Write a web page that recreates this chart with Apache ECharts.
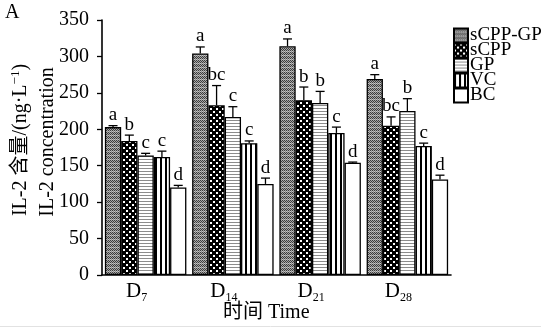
<!DOCTYPE html>
<html>
<head>
<meta charset="UTF-8">
<title>IL-2</title>
<script src="https://cdn.jsdelivr.net/npm/echarts@6/dist/echarts.min.js"></script>
<style>
  html, body { margin: 0; padding: 0; background: #fff; }
  #main { width: 541px; height: 330px; }
</style>
</head>
<body>
<div id="main"></div>
<script>
    const days = ['7', '14', '21', '28'];
    const names = ['sCPP-GP', 'sCPP', 'GP', 'VC', 'BC'];

    // mean values
    const sCppGp = [203, 304, 314, 269];
    const sCpp = [184, 233, 240, 205];
    const gp = [164, 217, 236, 225];
    const vc = [162, 181, 195, 177];
    const bc = [120, 125, 154, 131];

    // error bars (upper part only)
    const sCppGpErr = [2, 9, 10, 6];
    const sCppErr = [8, 27, 18, 12];
    const gpErr = [3, 14, 16, 17];
    const vcErr = [8, 3, 8, 4];
    const bcErr = [3, 8, 1, 6];

    // significance letters
    const sCppGpSig = ['a', 'a', 'a', 'a'];
    const sCppSig = ['b', 'bc', 'b', 'bc'];
    const gpSig = ['c', 'c', 'b', 'b'];
    const vcSig = ['c', 'c', 'c', 'c'];
    const bcSig = ['d', 'd', 'd', 'd'];

    const means = [sCppGp, sCpp, gp, vc, bc];
    const errs = [sCppGpErr, sCppErr, gpErr, vcErr, bcErr];
    const sigs = [sCppGpSig, sCppSig, gpSig, vcSig, bcSig];

    const serif = "'Liberation Serif', 'Noto Sans CJK SC', serif";
    const barW = 16.3;

    function tile(w, h, draw) {
        let c = document.createElement('canvas');
        c.width = w;
        c.height = h;
        draw(c.getContext('2d'));
        return { image: c, repeat: 'repeat' };
    }

    const fills = [
        tile(4, 4, g => {
            for (let y = 0; y < 4; y++) {
                for (let x = 0; x < 4; x++) {
                    let dark = (x + y) % 2 === 0;
                    g.fillStyle = y === 3 ? (dark ? '#8a8a8a' : '#c8c8c8') : (dark ? '#3c3c3c' : '#a8a8a8');
                    g.fillRect(x, y, 1, 1);
                }
            }
        }),
        tile(6, 6, g => {
            g.fillStyle = '#000';
            g.fillRect(0, 0, 6, 6);
            g.fillStyle = '#fff';
            g.fillRect(0, 0, 2, 2);
            g.fillRect(3, 3, 2, 2);
        }),
        tile(3, 3, g => {
            g.fillStyle = '#fff';
            g.fillRect(0, 0, 3, 3);
            g.fillStyle = '#8c8c8c';
            g.fillRect(0, 0, 3, 1);
        }),
        tile(5, 5, g => {
            g.fillStyle = '#fff';
            g.fillRect(0, 0, 5, 5);
            g.fillStyle = '#000';
            g.fillRect(0, 0, 2, 5);
        }),
        '#fff'
    ];

    let barSeries = names.map((n, i) => ({
        name: n,
        type: 'bar',
        data: means[i],
        barWidth: barW,
        barGap: '0%',
        itemStyle: { color: fills[i], borderColor: '#000', borderWidth: 1.3 }
    }));

    let errData = [];
    names.forEach((n, i) => {
        days.forEach((d, j) => {
            errData.push([j, i, means[i][j], errs[i][j], sigs[i][j]]);
        });
    });

    let chart = echarts.init(document.getElementById('main'));

    let option = {
        backgroundColor: '#fff',
        animation: false,
        textStyle: { fontFamily: serif },
        grid: { left: 102, right: 90, top: 20, bottom: 55 },
        legend: {
            orient: 'vertical',
            left: 448,
            top: 21,
            itemWidth: 14,
            itemHeight: 14,
            itemGap: -4,
            icon: 'rect',
            data: names,
            textStyle: { fontFamily: serif, fontSize: 19, color: '#000', padding: [0, 0, 0, -3] }
        },
        xAxis: {
            type: 'category',
            data: days,
            axisTick: { show: false },
            axisLine: { lineStyle: { color: '#000', width: 1.6 } },
            axisLabel: {
                margin: 4,
                padding: [0, 18, 0, 0],
                formatter: v => '{d|D}{s|' + v + '}',
                rich: {
                    d: { fontFamily: serif, fontSize: 21, color: '#000' },
                    s: { fontFamily: serif, fontSize: 12, color: '#000', padding: [13, 0, 0, 0] }
                }
            }
        },
        yAxis: {
            type: 'value',
            min: 0,
            max: 350,
            interval: 50,
            splitLine: { show: false },
            axisLine: { show: true, lineStyle: { color: '#000', width: 1.6 } },
            axisTick: { show: true, length: 5, lineStyle: { color: '#000', width: 1.3 } },
            axisLabel: { margin: 13, fontFamily: serif, fontSize: 20, color: '#000' }
        },
        series: barSeries.concat([{
            type: 'custom',
            data: errData,
            encode: { x: 0, y: 2 },
            z: 5,
            silent: true,
            renderItem: function (params, api) {
                let base = api.coord([api.value(0), api.value(2)]);
                let top = api.coord([api.value(0), api.value(2) + api.value(3)]);
                let x = base[0] + (api.value(1) - 2) * barW;
                return {
                    type: 'group',
                    children: [
                        {
                            type: 'line',
                            shape: { x1: x, y1: base[1], x2: x, y2: top[1] },
                            style: { stroke: '#000', lineWidth: 1.3 }
                        },
                        {
                            type: 'line',
                            shape: { x1: x - 4.5, y1: top[1], x2: x + 4.5, y2: top[1] },
                            style: { stroke: '#000', lineWidth: 1.3 }
                        },
                        {
                            type: 'text',
                            style: {
                                x: x,
                                y: top[1] - 1,
                                text: api.value(4),
                                fill: '#000',
                                font: '19px ' + serif,
                                textAlign: 'center',
                                textVerticalAlign: 'bottom'
                            }
                        }
                    ]
                };
            }
        }]),
        graphic: [
            {
                type: 'text',
                left: 5,
                top: 3,
                style: { text: 'A', fill: '#000', font: '20px ' + serif }
            },
            {
                type: 'text',
                x: 21,
                y: 140,
                rotation: Math.PI / 2,
                style: {
                    text: '{t|IL-2 含量/(ng·L}{u|−1}{t|)}',
                    align: 'center',
                    verticalAlign: 'middle',
                    rich: {
                        t: { font: '20px ' + serif, fill: '#000' },
                        u: { font: '13px ' + serif, fill: '#000', padding: [0, 0, 10, 0] }
                    }
                }
            },
            {
                type: 'text',
                x: 48,
                y: 142,
                rotation: Math.PI / 2,
                style: {
                    text: 'IL-2 concentration',
                    fill: '#000',
                    font: '20px ' + serif,
                    align: 'center',
                    verticalAlign: 'middle'
                }
            },
            {
                type: 'text',
                left: 223,
                top: 303,
                style: { text: '时间 Time', fill: '#000', font: '20px ' + serif }
            },
            {
                type: 'line',
                shape: { x1: 0, y1: 326.5, x2: 541, y2: 326.5 },
                style: { stroke: '#e2e2e2', lineWidth: 1 }
            }
        ]
    };

    chart.setOption(option);
</script>
</body>
</html>
